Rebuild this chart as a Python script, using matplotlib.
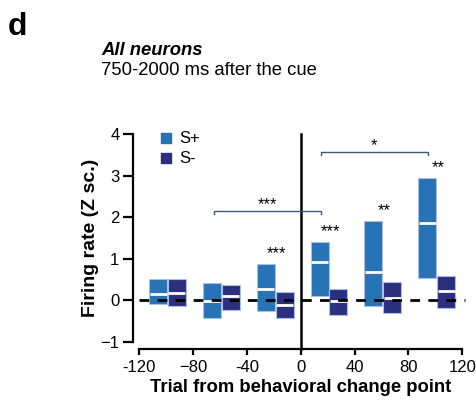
import numpy as np
import matplotlib
matplotlib.use('Agg')
import matplotlib.pyplot as plt

plt.rcParams['font.family'] = ['Liberation Sans', 'DejaVu Sans']

# trial bins (centre of each S+/S- pair)
centers = [-99, -59, -19, 21, 61, 101]
# S+ boxes: bottom, median, top (Z score)
sp_low = [-0.10, -0.42, -0.25, 0.10, -0.15, 0.53]
sp_med = [0.15, -0.02, 0.28, 0.92, 0.67, 1.86]
sp_high = [0.51, 0.41, 0.87, 1.40, 1.90, 2.95]
# S- boxes
sm_low = [-0.13, -0.23, -0.44, -0.36, -0.31, -0.18]
sm_med = [0.18, 0.11, -0.11, -0.03, 0.05, 0.22]
sm_high = [0.51, 0.36, 0.21, 0.26, 0.43, 0.59]
# stars above each pair
pair_stars = ['', '', '***', '***', '**', '**']

c_plus = '#2872b6'
c_minus = '#2c2f7f'
edge = '#a9bfe0'
w = 13.4
off = 7

fig = plt.figure(figsize=(4.76, 4.01), dpi=100)
ax = fig.add_axes([0.2926, 0.1479, 0.6786, 0.5172])

xp = np.array(centers) - off
xm = np.array(centers) + off

for xs, lo, md, hi, col in [(xp, sp_low, sp_med, sp_high, c_plus),
                            (xm, sm_low, sm_med, sm_high, c_minus)]:
    lo, md, hi = np.array(lo), np.array(md), np.array(hi)
    ax.bar(xs, hi - lo, bottom=lo, width=w, color=col, edgecolor=edge,
           linewidth=0.8, zorder=2)
    for x, m in zip(xs, md):
        ax.plot([x - w / 2 + 0.4, x + w / 2 - 0.4], [m, m], color='white',
                lw=2, solid_capstyle='butt', zorder=3)

# baseline and change point
ax.plot([-120, 122], [0, 0], color='black', ls=(0, (3.5, 3)), lw=2,
        zorder=4, clip_on=False)
ax.plot([0, 0], [-1.17, 4.0], color='black', lw=1.8, zorder=4, clip_on=False)

for c, s, hp, hm in zip(centers, pair_stars, sp_high, sm_high):
    if s:
        ax.text(c + 1, max(hp, hm) + 0.25, s, ha='center', va='center',
                fontsize=12)

# comparison brackets
brackets = [(-64.5, 15, 2.14, '***'), (15, 94.5, 3.57, '*')]
for x0, x1, yb, s in brackets:
    ax.plot([x0, x0, x1, x1], [yb - 0.07, yb, yb, yb - 0.07],
            color='#3d5a78', lw=1, zorder=4)
    ax.text((x0 + x1) / 2, yb + 0.16, s, ha='center', va='center',
            fontsize=12)

# legend squares
ax.scatter([-100], [3.9], marker='s', s=55, color=c_plus, clip_on=False)
ax.scatter([-100], [3.42], marker='s', s=55, color=c_minus, clip_on=False)
ax.text(-90, 3.9, 'S+', va='center', fontsize=12)
ax.text(-90, 3.42, 'S-', va='center', fontsize=12)

ax.set_xlim(-120, 120)
ax.set_ylim(-1, 4)
ax.set_xticks([-120, -80, -40, 0, 40, 80, 120])
ax.set_xticklabels(['-120', '\u221280', '-40', '0', '40', '80', '120'])
ax.set_yticks([-1, 0, 1, 2, 3, 4])
ax.set_yticklabels(['\u22121', '0', '1', '2', '3', '4'])
for side in ['top', 'right']:
    ax.spines[side].set_visible(False)
ax.spines['left'].set_position(('outward', 4.3))
ax.spines['bottom'].set_position(('outward', 5))
for side in ['left', 'bottom']:
    ax.spines[side].set_linewidth(1.6)
ax.tick_params(axis='y', width=1.6, length=7, labelsize=12, pad=3)
ax.tick_params(axis='x', width=1.6, length=4, labelsize=12, pad=4)
ax.set_xlabel('Trial from behavioral change point', fontsize=13.3,
              fontweight='bold', labelpad=3)
ax.set_ylabel('Firing rate (Z sc.)', fontsize=14, fontweight='bold',
              labelpad=1)

fig.text(0.017, 0.97, 'd', fontsize=23, fontweight='bold', va='top')
fig.text(0.212, 0.875, 'All neurons', fontsize=13.3, fontweight='bold',
         style='italic', va='center')
fig.text(0.212, 0.823, '750-2000 ms after the cue', fontsize=13.3,
         va='center')

fig.savefig('out.png', dpi=100)
